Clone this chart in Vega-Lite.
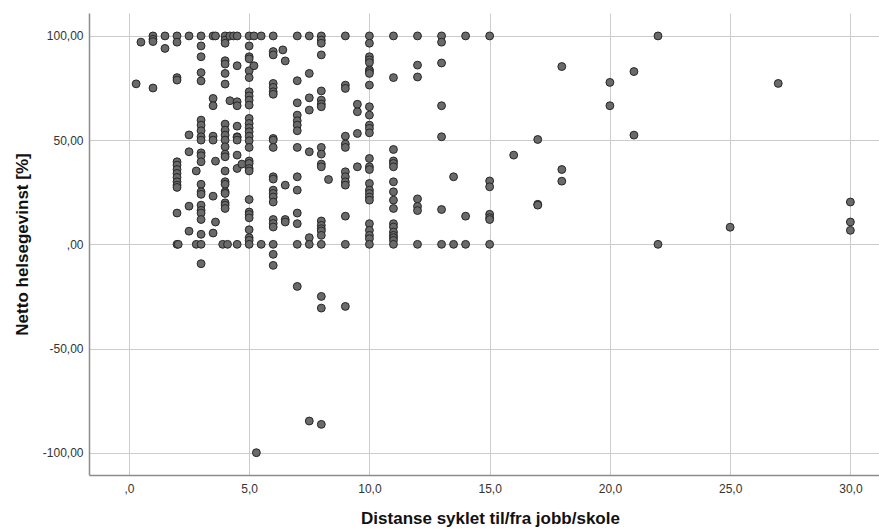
{
  "$schema": "https://vega.github.io/schema/vega-lite/v6.json",
  "width": 790,
  "height": 462,
  "autosize": "none",
  "padding": {"left": 89, "top": 13, "right": 0, "bottom": 56},
  "background": "white",
  "config": {"view": {"stroke": null}, "font": "Liberation Sans"},
  "data": {"values": [
    {"d":0.3,"g":77},{"d":0.5,"g":97},
    {"d":1,"g":100},{"d":1,"g":98.4},{"d":1,"g":97.3},{"d":1,"g":75},
    {"d":1.5,"g":100},{"d":1.5,"g":94},
    {"d":2,"g":100},{"d":2,"g":97},{"d":2,"g":80},{"d":2,"g":78.8},{"d":2,"g":39.6},{"d":2,"g":38},{"d":2,"g":35.9},{"d":2,"g":34},{"d":2,"g":32.1},{"d":2,"g":30},{"d":2,"g":28.4},{"d":2,"g":27.3},{"d":2,"g":15},{"d":2,"g":0},{"d":2.05,"g":0},
    {"d":2.5,"g":100},{"d":2.5,"g":52.5},{"d":2.5,"g":44.4},{"d":2.5,"g":18.3},{"d":2.5,"g":6.3},
    {"d":2.8,"g":35.2},{"d":2.8,"g":0},
    {"d":3,"g":100},{"d":3,"g":95.2},{"d":3,"g":90},{"d":3,"g":82.4},{"d":3,"g":78.4},{"d":3,"g":59.6},{"d":3,"g":57.2},{"d":3,"g":54.5},{"d":3,"g":51.6},{"d":3,"g":50},{"d":3,"g":43.9},{"d":3,"g":42.5},{"d":3,"g":39.6},{"d":3,"g":28.8},{"d":3,"g":25.2},{"d":3,"g":24},{"d":3,"g":18.8},{"d":3,"g":16.3},{"d":3,"g":15},{"d":3,"g":11.9},{"d":3,"g":4.8},{"d":3,"g":0},{"d":3,"g":-9.3},
    {"d":3.5,"g":100},{"d":3.5,"g":70},{"d":3.5,"g":66.5},{"d":3.5,"g":51.9},{"d":3.5,"g":50},{"d":3.5,"g":23.1},{"d":3.5,"g":5.4},
    {"d":3.6,"g":100},{"d":3.6,"g":39.9},{"d":3.6,"g":10.7},
    {"d":4,"g":100},{"d":4,"g":98},{"d":4,"g":96.5},{"d":4,"g":88.1},{"d":4,"g":86.5},{"d":4,"g":82},{"d":4,"g":76.9},{"d":4,"g":57.7},{"d":4,"g":54.8},{"d":4,"g":52.4},{"d":4,"g":50},{"d":4,"g":46.8},{"d":4,"g":43.3},{"d":4,"g":42},{"d":4,"g":35.2},{"d":4,"g":30},{"d":4,"g":28.8},{"d":4,"g":25.2},{"d":4,"g":24.4},{"d":4,"g":19.9},{"d":4,"g":18.8},{"d":4,"g":17.2},{"d":3.9,"g":0},{"d":4.1,"g":0},
    {"d":4.2,"g":100},{"d":4.2,"g":68.9},{"d":4.35,"g":100},
    {"d":4.5,"g":100},{"d":4.5,"g":85.7},{"d":4.5,"g":68.4},{"d":4.5,"g":66.5},{"d":4.5,"g":56.7},{"d":4.5,"g":51.6},{"d":4.5,"g":51.3},{"d":4.5,"g":50},{"d":4.5,"g":42.8},{"d":4.5,"g":36.4},{"d":4.5,"g":0},
    {"d":4.7,"g":38.5},
    {"d":5,"g":100},{"d":5,"g":95.2},{"d":5,"g":90},{"d":5,"g":89},{"d":5,"g":83.3},{"d":5,"g":80},{"d":5,"g":73.2},{"d":5,"g":71.2},{"d":5,"g":69.2},{"d":5,"g":66.8},{"d":5,"g":60.4},{"d":5,"g":58},{"d":5,"g":55.9},{"d":5,"g":54},{"d":5,"g":51.9},{"d":5,"g":49.7},{"d":5,"g":46.5},{"d":5,"g":40},{"d":5,"g":38.8},{"d":5,"g":36.4},{"d":5,"g":35.2},{"d":5,"g":21.5},{"d":5,"g":15.5},{"d":5,"g":14.3},{"d":5,"g":12.7},{"d":5,"g":7},{"d":5,"g":3.2},{"d":5,"g":1.9},{"d":5,"g":0},
    {"d":5.2,"g":100},{"d":5.2,"g":85.7},{"d":5.3,"g":-100},
    {"d":5.5,"g":100},{"d":5.5,"g":0},
    {"d":6,"g":100},{"d":6,"g":92.5},{"d":6,"g":90.9},{"d":6,"g":77.2},{"d":6,"g":75.3},{"d":6,"g":73.2},{"d":6,"g":72},{"d":6,"g":50.8},{"d":6,"g":50},{"d":6,"g":46.5},{"d":6,"g":32.4},{"d":6,"g":31.3},{"d":6,"g":26},{"d":6,"g":24.4},{"d":6,"g":22.7},{"d":6,"g":20.3},{"d":6,"g":11.9},{"d":6,"g":10},{"d":6,"g":8.3},{"d":6,"g":0},{"d":6,"g":-4.8},{"d":6,"g":-10.1},
    {"d":6.4,"g":93.3},
    {"d":6.5,"g":88},{"d":6.5,"g":28.4},{"d":6.5,"g":11.9},{"d":6.5,"g":10.7},
    {"d":7,"g":100},{"d":7,"g":78.5},{"d":7,"g":67.9},{"d":7,"g":62},{"d":7,"g":59.3},{"d":7,"g":57.2},{"d":7,"g":54.5},{"d":7,"g":46.5},{"d":7,"g":32.4},{"d":7,"g":26},{"d":7,"g":15},{"d":7,"g":9.9},{"d":7,"g":0},{"d":7,"g":-20.2},
    {"d":7.5,"g":100},{"d":7.5,"g":82},{"d":7.5,"g":70.3},{"d":7.5,"g":64.4},{"d":7.5,"g":44.4},{"d":7.5,"g":3.2},{"d":7.5,"g":0},{"d":7.5,"g":-84.8},
    {"d":8,"g":100},{"d":8,"g":98},{"d":8,"g":96.5},{"d":8,"g":90.9},{"d":8,"g":73.6},{"d":8,"g":69.2},{"d":8,"g":67.3},{"d":8,"g":66},{"d":8,"g":46.5},{"d":8,"g":43.3},{"d":8,"g":38.5},{"d":8,"g":37.2},{"d":8,"g":11.2},{"d":8,"g":9.1},{"d":8,"g":7.5},{"d":8,"g":6.4},{"d":8,"g":4.3},{"d":8,"g":0},{"d":8,"g":-25},{"d":8,"g":-30.6},{"d":8,"g":-86.4},
    {"d":8.3,"g":31.1},
    {"d":9,"g":100},{"d":9,"g":76.4},{"d":9,"g":74.8},{"d":9,"g":51.9},{"d":9,"g":48.1},{"d":9,"g":46.5},{"d":9,"g":34.8},{"d":9,"g":32.4},{"d":9,"g":30},{"d":9,"g":28.4},{"d":9,"g":13.5},{"d":9,"g":0},{"d":9,"g":-29.8},
    {"d":9.5,"g":67.2},{"d":9.5,"g":63.6},{"d":9.5,"g":53.2},{"d":9.5,"g":37.2},
    {"d":10,"g":100},{"d":10,"g":96.5},{"d":10,"g":90},{"d":10,"g":88.5},{"d":10,"g":87.2},{"d":10,"g":83.7},{"d":10,"g":82.9},{"d":10,"g":82},{"d":10,"g":76.4},{"d":10,"g":66},{"d":10,"g":62},{"d":10,"g":57.2},{"d":10,"g":55.6},{"d":10,"g":53.5},{"d":10,"g":41.2},{"d":10,"g":37.2},{"d":10,"g":35.9},{"d":10,"g":29.2},{"d":10,"g":26},{"d":10,"g":24.4},{"d":10,"g":22.7},{"d":10,"g":21.2},{"d":10,"g":9.9},{"d":10,"g":6.7},{"d":10,"g":4.3},{"d":10,"g":2.7},{"d":10,"g":0},
    {"d":11,"g":100},{"d":11,"g":80},{"d":11,"g":45.5},{"d":11,"g":40},{"d":11,"g":38.8},{"d":11,"g":37.2},{"d":11,"g":30},{"d":11,"g":25.2},{"d":11,"g":21.2},{"d":11,"g":17.2},{"d":11,"g":9.9},{"d":11,"g":8.3},{"d":11,"g":5.9},{"d":11,"g":4.3},{"d":11,"g":3.2},{"d":11,"g":1.9},{"d":11,"g":0},
    {"d":12,"g":100},{"d":12,"g":86},{"d":12,"g":80.3},{"d":12,"g":21.8},{"d":12,"g":18.2},{"d":12,"g":16.2},{"d":12,"g":0},
    {"d":13,"g":100},{"d":13,"g":97},{"d":13,"g":87},{"d":13,"g":66.5},{"d":13,"g":51.6},{"d":13,"g":16.7},{"d":13,"g":0},
    {"d":13.5,"g":32.4},{"d":13.5,"g":0},
    {"d":14,"g":100},{"d":14,"g":13.5},{"d":14,"g":0},
    {"d":15,"g":100},{"d":15,"g":30.4},{"d":15,"g":27.6},{"d":15,"g":14.4},{"d":15,"g":12.8},{"d":15,"g":11.9},{"d":15,"g":0},
    {"d":16,"g":42.8},
    {"d":17,"g":50.3},{"d":17,"g":19.2},{"d":17,"g":18.8},
    {"d":18,"g":85.3},{"d":18,"g":35.9},{"d":18,"g":30.3},
    {"d":20,"g":77.7},{"d":20,"g":66.5},
    {"d":21,"g":82.9},{"d":21,"g":52.4},
    {"d":22,"g":100},{"d":22,"g":0},
    {"d":25,"g":8.2},
    {"d":27,"g":77.2},
    {"d":30,"g":20.3},{"d":30,"g":10.7},{"d":30,"g":6.7}
  ]},
  "mark": {"type": "circle", "size": 62, "fill": "#6a6a6a", "stroke": "#262626", "strokeWidth": 1, "opacity": 1},
  "encoding": {
    "x": {
      "field": "d", "type": "quantitative",
      "scale": {"domain": [-1.66, 31.19], "nice": false, "zero": false},
      "axis": {
        "title": "Distanse syklet til/fra jobb/skole",
        "values": [0, 5, 10, 15, 20, 25, 30],
        "labelExpr": "datum.value == 0 ? ',0' : replace(format(datum.value, '.1f'), '.', ',')",
        "grid": true, "gridColor": "#cccccc", "gridWidth": 1,
        "ticks": false,
        "domainColor": "#8c8c8c", "domainWidth": 1.5,
        "labelFontSize": 12, "labelColor": "#333333", "labelPadding": 8,
        "titleFontSize": 17, "titleFontWeight": "bold", "titleColor": "#111111",
        "titlePadding": 16, "titleX": 401
      }
    },
    "y": {
      "field": "g", "type": "quantitative",
      "scale": {"domain": [-110.7, 111], "nice": false, "zero": false},
      "axis": {
        "title": "Netto helsegevinst [%]",
        "values": [-100, -50, 0, 50, 100],
        "labelExpr": "datum.value == 0 ? ',00' : replace(replace(format(datum.value, '.2f'), '.', ','), '\u2212', '-')",
        "grid": true, "gridColor": "#cccccc", "gridWidth": 1,
        "ticks": false,
        "domainColor": "#8c8c8c", "domainWidth": 1.5,
        "labelFontSize": 12, "labelColor": "#333333", "labelPadding": 6,
        "titleFontSize": 17, "titleFontWeight": "bold", "titleColor": "#111111",
        "titleX": -67, "titleY": 231, "titleBaseline": "middle", "titleAlign": "center", "titleAngle": -90
      }
    }
  }
}
